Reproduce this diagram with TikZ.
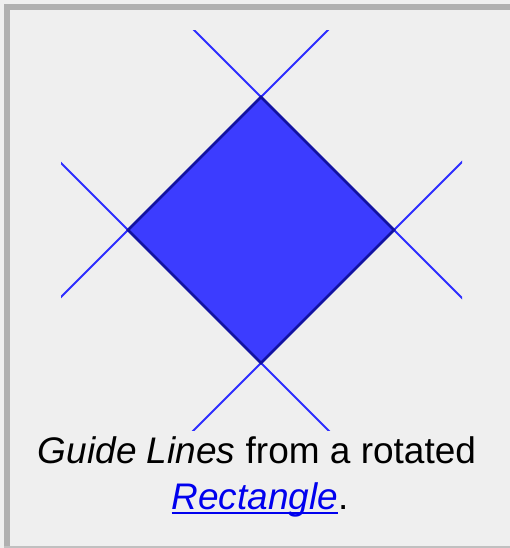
\documentclass[tikz,border=0pt]{standalone}
\usepackage{fontspec}
\setmainfont{Liberation Sans}
\usetikzlibrary{calc}
\definecolor{panelbg}{RGB}{239,239,239}
\definecolor{framegray}{RGB}{176,176,176}
\definecolor{shapefill}{RGB}{60,60,255}
\definecolor{shapeedge}{RGB}{18,18,160}
\definecolor{guideblue}{RGB}{45,45,255}
\definecolor{linkblue}{RGB}{0,0,238}
\newcommand\linkul[1]{\setbox0\hbox{#1}\rlap{\rule[-4.5pt]{\wd0}{1.8pt}}\box0}
\tikzset{
  % frame
  frameband/.style = {fill=framegray, draw=none},
  % guide lines and shape
  guide/.style     = {draw=guideblue, line width=1.8pt},
  rotrect/.style   = {fill=shapefill, draw=shapeedge, line width=2.5pt, line join=miter},
  % caption
  caption/.style   = {font=\fontsize{37}{45}\selectfont, anchor=base, inner sep=0pt},
}
\begin{document}
\begin{tikzpicture}[x=1pt, y=-1pt]

% ---------- Panel ----------
\useasboundingbox[fill=panelbg] (0,0) rectangle (510,548);
\path[frameband] (4,4) rectangle (510,10);
\path[frameband] (4,4) rectangle (10,548);
\path[fill=framegray!80] (4,546) rectangle (510,548);

% ---------- Corners of the rotated rectangle ----------
\coordinate (top)    at (261,97);
\coordinate (left)   at (128,230);
\coordinate (right)  at (394,230);
\coordinate (bottom) at (261,363);

% ---------- Guide lines ----------
\begin{scope}
  \clip (61,31) rectangle (462,430);
  \draw[guide] ($(left)!-2!(top)$)     -- ($(top)!-2!(left)$);
  \draw[guide] ($(top)!-2!(right)$)    -- ($(right)!-2!(top)$);
  \draw[guide] ($(right)!-2!(bottom)$) -- ($(bottom)!-2!(right)$);
  \draw[guide] ($(bottom)!-2!(left)$)  -- ($(left)!-2!(bottom)$);
\end{scope}

% ---------- Rotated rectangle ----------
\draw[rotrect] (top) -- (right) -- (bottom) -- (left) -- cycle;

% ---------- Caption ----------
\node[caption] (line1) at (257,463.5) {\textit{Guide Lines} from a rotated};
\node[caption] (line2) at (260,509)
  {{\color{linkblue}\linkul{\textit{Rectangle}}}.};

\end{tikzpicture}
\end{document}
